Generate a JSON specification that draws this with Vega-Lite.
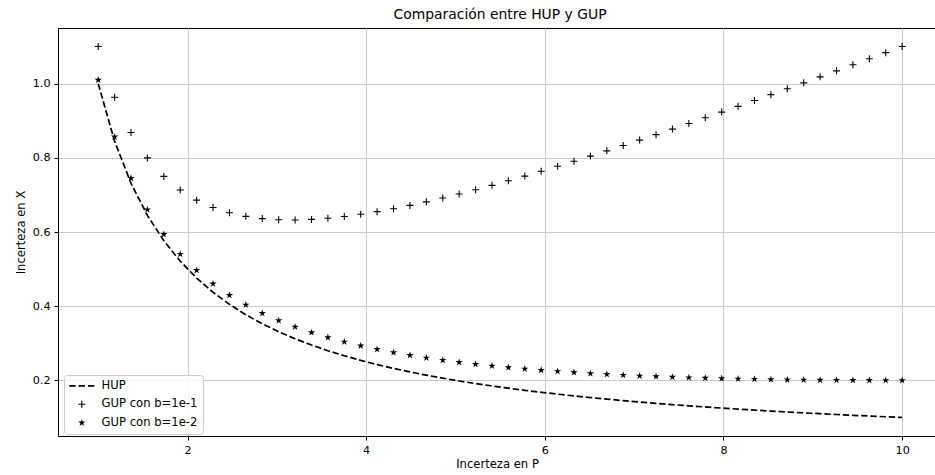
{
  "$schema": "https://vega.github.io/schema/vega-lite/v6.json",
  "width": 878,
  "height": 408,
  "autosize": {"type": "none"},
  "padding": {"left": 58, "top": 28, "right": 0, "bottom": 39},
  "background": "white",
  "config": {
    "font": "DejaVu Sans",
    "view": {"stroke": "#000000", "strokeWidth": 1},
    "axis": {
      "domain": false,
      "grid": true,
      "gridColor": "#cccccc",
      "gridWidth": 1,
      "tickColor": "#000000",
      "tickSize": 4,
      "labelFont": "DejaVu Sans",
      "labelFontSize": 11.2,
      "labelColor": "#000000",
      "titleFont": "DejaVu Sans",
      "titleFontSize": 11.6,
      "titleFontWeight": "normal",
      "titleColor": "#000000"
    }
  },
  "title": {
    "text": "Comparación entre HUP y GUP",
    "font": "DejaVu Sans",
    "fontSize": 13.9,
    "fontWeight": "normal",
    "color": "#000000",
    "anchor": "middle",
    "dx": 3,
    "offset": 6
  },
  "data": {
    "values": [
      {"x": 1.0, "HUP": 1.0, "GUP con b=1e-1": 1.1, "GUP con b=1e-2": 1.01},
      {"x": 1.183673, "HUP": 0.844828, "GUP con b=1e-1": 0.963195, "GUP con b=1e-2": 0.856665},
      {"x": 1.367347, "HUP": 0.731343, "GUP con b=1e-1": 0.868078, "GUP con b=1e-2": 0.745016},
      {"x": 1.55102, "HUP": 0.644737, "GUP con b=1e-1": 0.799839, "GUP con b=1e-2": 0.660247},
      {"x": 1.734694, "HUP": 0.576471, "GUP con b=1e-1": 0.74994, "GUP con b=1e-2": 0.593818},
      {"x": 1.918367, "HUP": 0.521277, "GUP con b=1e-1": 0.713114, "GUP con b=1e-2": 0.540461},
      {"x": 2.102041, "HUP": 0.475728, "GUP con b=1e-1": 0.685932, "GUP con b=1e-2": 0.496748},
      {"x": 2.285714, "HUP": 0.4375, "GUP con b=1e-1": 0.666071, "GUP con b=1e-2": 0.460357},
      {"x": 2.469388, "HUP": 0.404959, "GUP con b=1e-1": 0.651898, "GUP con b=1e-2": 0.429653},
      {"x": 2.653061, "HUP": 0.376923, "GUP con b=1e-1": 0.642229, "GUP con b=1e-2": 0.403454},
      {"x": 2.836735, "HUP": 0.352518, "GUP con b=1e-1": 0.636191, "GUP con b=1e-2": 0.380885},
      {"x": 3.020408, "HUP": 0.331081, "GUP con b=1e-1": 0.633122, "GUP con b=1e-2": 0.361285},
      {"x": 3.204082, "HUP": 0.312102, "GUP con b=1e-1": 0.63251, "GUP con b=1e-2": 0.344143},
      {"x": 3.387755, "HUP": 0.295181, "GUP con b=1e-1": 0.633957, "GUP con b=1e-2": 0.329059},
      {"x": 3.571429, "HUP": 0.28, "GUP con b=1e-1": 0.637143, "GUP con b=1e-2": 0.315714},
      {"x": 3.755102, "HUP": 0.266304, "GUP con b=1e-1": 0.641814, "GUP con b=1e-2": 0.303855},
      {"x": 3.938776, "HUP": 0.253886, "GUP con b=1e-1": 0.647764, "GUP con b=1e-2": 0.293274},
      {"x": 4.122449, "HUP": 0.242574, "GUP con b=1e-1": 0.654819, "GUP con b=1e-2": 0.283798},
      {"x": 4.306122, "HUP": 0.232227, "GUP con b=1e-1": 0.662839, "GUP con b=1e-2": 0.275288},
      {"x": 4.489796, "HUP": 0.222727, "GUP con b=1e-1": 0.671707, "GUP con b=1e-2": 0.267625},
      {"x": 4.673469, "HUP": 0.213974, "GUP con b=1e-1": 0.681321, "GUP con b=1e-2": 0.260709},
      {"x": 4.857143, "HUP": 0.205882, "GUP con b=1e-1": 0.691596, "GUP con b=1e-2": 0.254453},
      {"x": 5.040816, "HUP": 0.198381, "GUP con b=1e-1": 0.702463, "GUP con b=1e-2": 0.248789},
      {"x": 5.22449, "HUP": 0.191406, "GUP con b=1e-1": 0.713855, "GUP con b=1e-2": 0.243651},
      {"x": 5.408163, "HUP": 0.184906, "GUP con b=1e-1": 0.725722, "GUP con b=1e-2": 0.238988},
      {"x": 5.591837, "HUP": 0.178832, "GUP con b=1e-1": 0.738016, "GUP con b=1e-2": 0.23475},
      {"x": 5.77551, "HUP": 0.173145, "GUP con b=1e-1": 0.750696, "GUP con b=1e-2": 0.2309},
      {"x": 5.959184, "HUP": 0.167808, "GUP con b=1e-1": 0.763726, "GUP con b=1e-2": 0.2274},
      {"x": 6.142857, "HUP": 0.162791, "GUP con b=1e-1": 0.777077, "GUP con b=1e-2": 0.22422},
      {"x": 6.326531, "HUP": 0.158065, "GUP con b=1e-1": 0.790718, "GUP con b=1e-2": 0.22133},
      {"x": 6.510204, "HUP": 0.153605, "GUP con b=1e-1": 0.804625, "GUP con b=1e-2": 0.218707},
      {"x": 6.693878, "HUP": 0.14939, "GUP con b=1e-1": 0.818778, "GUP con b=1e-2": 0.216329},
      {"x": 6.877551, "HUP": 0.145401, "GUP con b=1e-1": 0.833156, "GUP con b=1e-2": 0.214177},
      {"x": 7.061224, "HUP": 0.141618, "GUP con b=1e-1": 0.84774, "GUP con b=1e-2": 0.21223},
      {"x": 7.244898, "HUP": 0.138028, "GUP con b=1e-1": 0.862518, "GUP con b=1e-2": 0.210477},
      {"x": 7.428571, "HUP": 0.134615, "GUP con b=1e-1": 0.877472, "GUP con b=1e-2": 0.208901},
      {"x": 7.612245, "HUP": 0.131367, "GUP con b=1e-1": 0.892591, "GUP con b=1e-2": 0.207489},
      {"x": 7.795918, "HUP": 0.128272, "GUP con b=1e-1": 0.907864, "GUP con b=1e-2": 0.206231},
      {"x": 7.979592, "HUP": 0.12532, "GUP con b=1e-1": 0.923279, "GUP con b=1e-2": 0.205116},
      {"x": 8.163265, "HUP": 0.1225, "GUP con b=1e-1": 0.938827, "GUP con b=1e-2": 0.204133},
      {"x": 8.346939, "HUP": 0.119804, "GUP con b=1e-1": 0.954498, "GUP con b=1e-2": 0.203273},
      {"x": 8.530612, "HUP": 0.117225, "GUP con b=1e-1": 0.970286, "GUP con b=1e-2": 0.202531},
      {"x": 8.714286, "HUP": 0.114754, "GUP con b=1e-1": 0.986183, "GUP con b=1e-2": 0.201897},
      {"x": 8.897959, "HUP": 0.112385, "GUP con b=1e-1": 1.002181, "GUP con b=1e-2": 0.201365},
      {"x": 9.081633, "HUP": 0.110112, "GUP con b=1e-1": 1.018275, "GUP con b=1e-2": 0.200928},
      {"x": 9.265306, "HUP": 0.10793, "GUP con b=1e-1": 1.034461, "GUP con b=1e-2": 0.200583},
      {"x": 9.44898, "HUP": 0.105832, "GUP con b=1e-1": 1.05073, "GUP con b=1e-2": 0.200322},
      {"x": 9.632653, "HUP": 0.103814, "GUP con b=1e-1": 1.067079, "GUP con b=1e-2": 0.200141},
      {"x": 9.816327, "HUP": 0.101871, "GUP con b=1e-1": 1.083504, "GUP con b=1e-2": 0.200034},
      {"x": 10.0, "HUP": 0.1, "GUP con b=1e-1": 1.1, "GUP con b=1e-2": 0.2}
    ]
  },
  "transform": [
    {"fold": ["HUP", "GUP con b=1e-1", "GUP con b=1e-2"], "as": ["serie", "y"]}
  ],
  "encoding": {
    "x": {
      "field": "x",
      "type": "quantitative",
      "title": "Incerteza en P",
      "scale": {"domain": [0.55, 10.379], "nice": false, "zero": false},
      "axis": {"values": [2, 4, 6, 8, 10], "labelPadding": 4, "titlePadding": 3}
    },
    "y": {
      "field": "y",
      "type": "quantitative",
      "title": "Incerteza en X",
      "scale": {"domain": [0.05, 1.15], "nice": false, "zero": false},
      "axis": {"values": [0.2, 0.4, 0.6, 0.8, 1.0], "format": ".1f", "labelPadding": 4, "titlePadding": 6}
    }
  },
  "layer": [
    {
      "transform": [{"filter": "datum.serie === 'HUP'"}],
      "mark": {"type": "line", "color": "#000000", "strokeWidth": 1.7, "strokeDash": [6.4, 2.8], "clip": true}
    },
    {
      "transform": [{"filter": "datum.serie !== 'HUP'"}],
      "mark": {"type": "point", "filled": true, "fill": "#000000", "strokeWidth": 0, "size": 49, "opacity": 1},
      "encoding": {
        "shape": {
          "field": "serie",
          "type": "nominal",
          "title": null,
          "scale": {
            "domain": ["HUP", "GUP con b=1e-1", "GUP con b=1e-2"],
            "range": [
              "M-3.57,-0.243H-1.77V0.243H-3.57ZM-0.9,-0.243H0.9V0.243H-0.9ZM1.77,-0.243H3.57V0.243H1.77Z",
              "M-1,-0.157H1V0.157H-1ZM-0.157,-1H0.157V1H-0.157Z",
              "M0,-1.1L0.247,-0.34L1.046,-0.34L0.399,0.13L0.647,0.89L0,0.42L-0.647,0.89L-0.399,0.13L-1.046,-0.34L-0.247,-0.34Z"
            ]
          },
          "legend": {
            "orient": "none",
            "legendX": 6,
            "legendY": 347,
            "padding": 5,
            "symbolOffset": 7,
            "labelOffset": 14,
            "rowPadding": 5.5,
            "symbolSize": 49,
            "symbolFillColor": "#000000",
            "symbolStrokeWidth": 0,
            "labelFont": "DejaVu Sans",
            "labelFontSize": 11.6,
            "labelColor": "#000000",
            "fillColor": "rgba(255,255,255,0.8)",
            "strokeColor": "#cccccc",
            "cornerRadius": 3,
            "labelLimit": 300,
            "encode": {
              "symbols": {
                "update": {
                  "fill": {"value": "#000000"},
                  "opacity": {"value": 1}
                }
              }
            }
          }
        }
      }
    }
  ]
}
